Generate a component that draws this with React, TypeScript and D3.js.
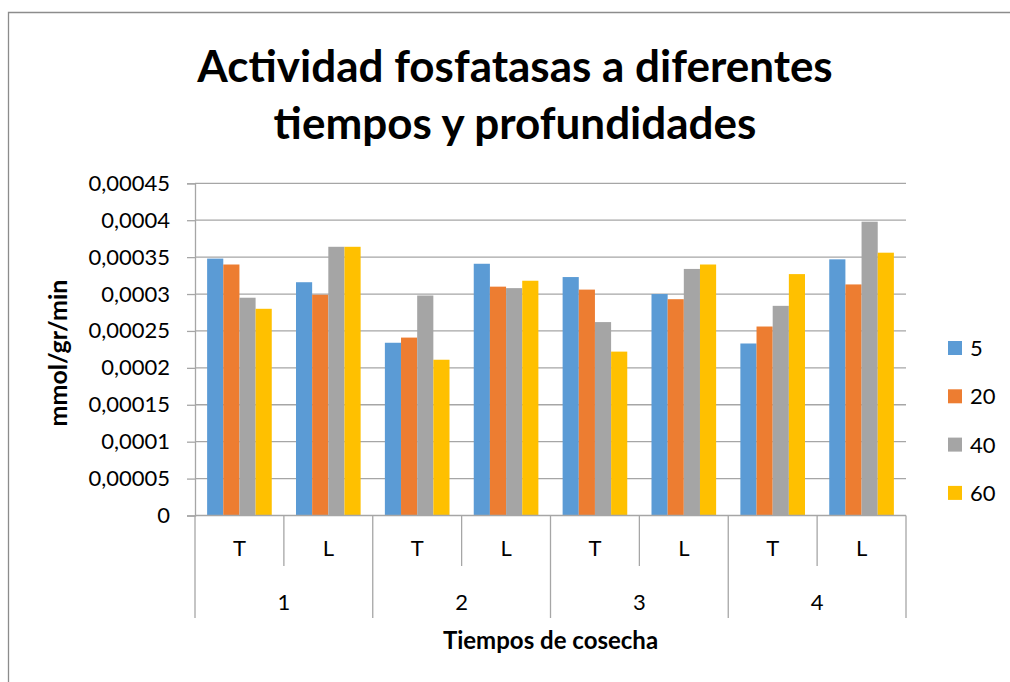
import React, { useRef, useEffect } from 'react';
import * as d3 from 'd3';

// depths (legend) and the values
const series = ['5', '20', '40', '60'];
const colors = ['#5B9BD5', '#ED7D31', '#A5A5A5', '#FFC000'];

const treatments = ['T', 'L', 'T', 'L', 'T', 'L', 'T', 'L'];
const harvests = ['1', '2', '3', '4'];

const values5 = [0.000348, 0.000316, 0.000234, 0.000341, 0.000323, 0.0003, 0.000233, 0.000347];
const values20 = [0.00034, 0.000299, 0.000241, 0.00031, 0.000306, 0.000293, 0.000256, 0.000313];
const values40 = [0.000295, 0.000364, 0.000298, 0.000308, 0.000262, 0.000334, 0.000284, 0.000398];
const values60 = [0.00028, 0.000364, 0.000211, 0.000318, 0.000222, 0.00034, 0.000327, 0.000356];

const yTickValues = [0, 0.00005, 0.0001, 0.00015, 0.0002, 0.00025, 0.0003, 0.00035, 0.0004, 0.00045];
const yTickLabels = ['0', '0,00005', '0,0001', '0,00015', '0,0002', '0,00025', '0,0003', '0,00035', '0,0004', '0,00045'];

const FONT = 'Lato, "Open Sans", sans-serif';

function App() {
  const svgRef = useRef<SVGSVGElement>(null);

  useEffect(() => {
    const svg = d3.select(svgRef.current);
    svg.selectAll('*').remove();

    const left = 195, right = 906, top = 183.3, bottom = 515.5;
    const allValues = [values5, values20, values40, values60];
    const cats = treatments.map((t, i) => i);

    // frame: only the top and left edges fall inside the picture
    svg.append('path')
      .attr('d', 'M8.5,700 V12.5 H1020')
      .attr('fill', 'none').attr('stroke', '#8c8c8c').attr('stroke-width', 1.3);

    const x0 = d3.scaleBand<number>().domain(cats).range([left, right]).padding(0);
    const bw = x0.bandwidth();
    const gap = (bw * 1.5) / 5.5;
    const x1 = d3.scaleBand<string>().domain(series).range([gap / 2, bw - gap / 2]).padding(0);
    const y = d3.scaleLinear().domain([0, 0.00045]).range([bottom, top]);

    // gridlines
    svg.append('g')
      .selectAll('line')
      .data(yTickValues.slice(1))
      .join('line')
      .attr('x1', left).attr('x2', right)
      .attr('y1', d => y(d)).attr('y2', d => y(d))
      .attr('stroke', '#a6a6a6').attr('stroke-width', 1.3);

    // y axis
    const yAxis = d3.axisLeft(y)
      .tickValues(yTickValues)
      .tickSize(8)
      .tickPadding(17)
      .tickFormat((d, i) => yTickLabels[i]);
    const gy = svg.append('g').attr('transform', `translate(${left},0)`).call(yAxis);
    gy.select('.domain').attr('stroke', '#a6a6a6').attr('stroke-width', 1.3);
    gy.selectAll('.tick line').attr('stroke', '#a6a6a6').attr('stroke-width', 1.3);
    gy.selectAll('.tick text')
      .attr('font-family', FONT).attr('font-size', 22).attr('fill', '#000');

    // bars
    series.forEach((s, si) => {
      svg.append('g')
        .attr('fill', colors[si])
        .selectAll('rect')
        .data(allValues[si])
        .join('rect')
        .attr('x', (d, i) => (x0(i) as number) + (x1(s) as number))
        .attr('width', x1.bandwidth())
        .attr('y', d => y(d))
        .attr('height', d => y(0) - y(d));
    });

    // x axis (two levels)
    const gx = svg.append('g');
    gx.append('line')
      .attr('x1', left).attr('x2', right).attr('y1', bottom).attr('y2', bottom)
      .attr('stroke', '#a6a6a6').attr('stroke-width', 1.3);
    const edges = d3.range(cats.length + 1).map(i => left + i * bw);
    gx.selectAll('.tk')
      .data(edges)
      .join('line')
      .attr('x1', d => d).attr('x2', d => d)
      .attr('y1', bottom)
      .attr('y2', (d, i) => (i % 2 === 0 ? 618 : 566))
      .attr('stroke', '#a6a6a6').attr('stroke-width', 1.3);
    gx.selectAll('.tl')
      .data(treatments)
      .join('text')
      .attr('x', (d, i) => (x0(i) as number) + bw / 2)
      .attr('y', 556)
      .attr('text-anchor', 'middle')
      .attr('font-family', FONT).attr('font-size', 22)
      .text(d => d);
    gx.selectAll('.hl')
      .data(harvests)
      .join('text')
      .attr('x', (d, i) => left + bw * (2 * i + 1))
      .attr('y', 610)
      .attr('text-anchor', 'middle')
      .attr('font-family', FONT).attr('font-size', 22)
      .text(d => d);

    // axis titles
    svg.append('text')
      .attr('x', (left + right) / 2).attr('y', 649)
      .attr('text-anchor', 'middle')
      .attr('font-family', FONT).attr('font-size', 24).attr('font-weight', 'bold')
      .text('Tiempos de cosecha');
    svg.append('text')
      .attr('transform', 'translate(67,353) rotate(-90)')
      .attr('text-anchor', 'middle')
      .attr('font-family', FONT).attr('font-size', 25).attr('font-weight', 'bold')
      .text('mmol/gr/min');

    // title
    const title = svg.append('text')
      .attr('text-anchor', 'middle')
      .attr('font-family', FONT).attr('font-size', 44).attr('font-weight', 'bold');
    title.append('tspan').attr('x', 515).attr('y', 82).text('Actividad fosfatasas a diferentes');
    title.append('tspan').attr('x', 515).attr('y', 139).text('tiempos y profundidades');

    // legend
    const lg = svg.append('g')
      .selectAll('g')
      .data(series)
      .join('g')
      .attr('transform', (d, i) => `translate(948,${348 + i * 48.3})`);
    lg.append('rect')
      .attr('x', 0).attr('y', -7).attr('width', 14).attr('height', 14)
      .attr('fill', (d, i) => colors[i]);
    lg.append('text')
      .attr('x', 22).attr('y', 8)
      .attr('font-family', FONT).attr('font-size', 22)
      .text(d => d);
  }, []);

  return (
    <svg ref={svgRef} width={1010} height={682}
      style={{ position: 'absolute', left: 0, top: 0, background: 'white' }} />
  );
}

export default App;
